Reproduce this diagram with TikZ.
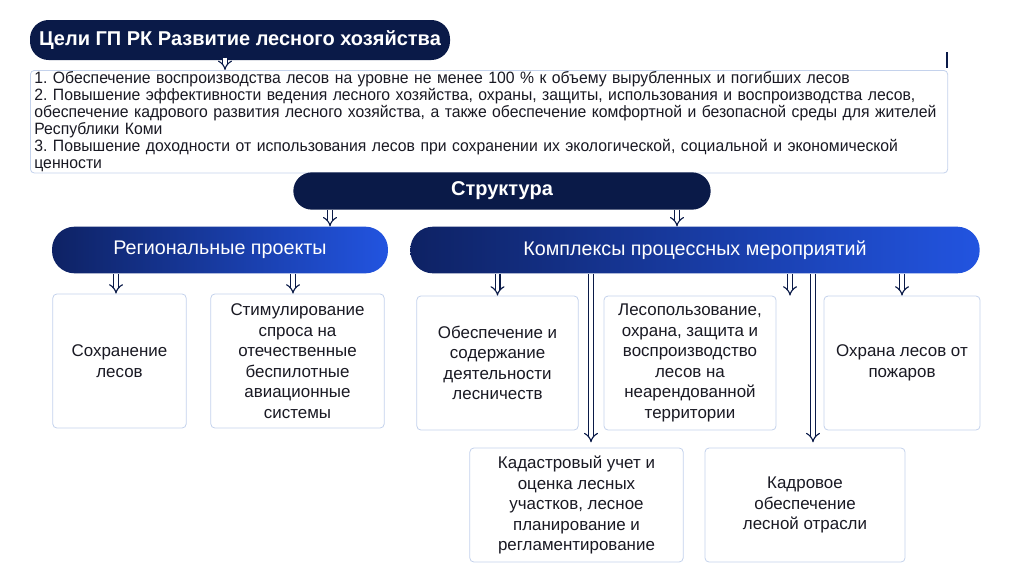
\documentclass[tikz,border=0pt]{standalone}
\usepackage{fontspec}
\setmainfont{Liberation Sans}
\newfontfamily\narrowfont[FakeStretch=0.96]{Liberation Sans}
\usepackage{xcolor}
\usepackage{tikz}
\usetikzlibrary{shapes, arrows.meta, positioning}
\definecolor{navydark}{RGB}{10, 26, 72}
\definecolor{navyleft}{RGB}{14, 34, 100}
\definecolor{blueright}{RGB}{34, 84, 224}
\definecolor{boxline}{RGB}{196, 210, 236}
\definecolor{textdark}{RGB}{25, 25, 35}
\frenchspacing

\begin{document}
\begin{tikzpicture}[x=0.75pt, y=-0.75pt,
    every node/.style={font=\fontsize{12.7}{15.4}\selectfont, text=textdark},
    pill/.style={fill=navydark, rounded corners=14pt, text=white, font=\fontsize{15}{17}\selectfont\bfseries},
    gradpill/.style={left color=navyleft, right color=blueright, rounded corners=17pt, minimum height=35pt, text=white, font=\fontsize{14.8}{17}\selectfont},
    itembox/.style={draw=boxline, fill=white, rounded corners=3pt, align=center, line width=0.6pt},
    hollowarr/.style={draw=navydark, line width=0.85pt, double=white, double distance=2.8pt, -{Implies}}]
        \useasboundingbox (0,0) rectangle (1024,576);

        % headline and goals
        \node[pill, minimum width=315pt, minimum height=30pt] (title) at (240,40) {Цели ГП РК Развитие лесного хозяйства};
        \node[draw=boxline, fill=white, rounded corners=3pt, line width=0.6pt, anchor=north west, text width=682pt, inner xsep=3pt, inner ysep=1pt, minimum height=75pt, align=left,
              font=\narrowfont\fontsize{12.3}{12.7}\selectfont] (goals) at (30,70)
            {1. Обеспечение воспроизводства лесов на уровне не менее 100 \% к объему вырубленных и погибших лесов\\
             2. Повышение эффективности ведения лесного хозяйства, охраны, защиты, использования и воспроизводства лесов,\\
             обеспечение кадрового развития лесного хозяйства, а также обеспечение комфортной и безопасной среды для жителей\\
             Республики Коми\\
             3. Повышение доходности от использования лесов при сохранении их экологической, социальной и экономической\\
             ценности};
        \draw[navydark, line width=0.8pt] (947,52) -- (947,68);

        % structure
        \node[pill, minimum width=313pt, minimum height=28pt] (struct) at (502,191) {Структура};
        \node[gradpill, minimum width=252pt] (regional) at (220,250) {Региональные проекты};
        \node[gradpill, minimum width=427pt] (complexes) at (695,250) {Комплексы процессных мероприятий};

        % boxes
        \node[itembox, minimum width=100pt, minimum height=100.5pt] (save) at (119.5,361) {Сохранение\\лесов};
        \node[itembox, minimum width=130pt, minimum height=100.5pt] (drones) at (297.5,361) {Стимулирование\\спроса на\\отечественные\\беспилотные\\авиационные\\системы};
        \node[itembox, minimum width=121pt, minimum height=100.5pt] (forestry) at (497.5,363) {Обеспечение и\\содержание\\деятельности\\лесничеств};
        \node[itembox, minimum width=129pt, minimum height=100.5pt] (usage) at (690,363) {Лесопользование,\\охрана, защита и\\воспроизводство\\лесов на\\неарендованной\\территории};
        \node[itembox, minimum width=117pt, minimum height=100.5pt] (fire) at (902,363) {Охрана лесов от\\пожаров};
        \node[itembox, minimum width=160pt, minimum height=85.5pt] (cadastre) at (576.5,505) {Кадастровый учет и\\оценка лесных\\участков, лесное\\планирование и\\регламентирование};
        \node[itembox, minimum width=150pt, minimum height=85.5pt] (staff) at (805,505) {Кадровое\\обеспечение\\лесной отрасли};

        % arrow columns
        \coordinate (xa) at (225,0);
        \coordinate (xb) at (330,0);
        \coordinate (xc) at (677,0);
        \coordinate (xd) at (116,0);
        \coordinate (xe) at (293,0);
        \coordinate (xf) at (790,0);
        \coordinate (xg) at (591,0);
        \coordinate (xh) at (813,0);

        % arrows
        \draw[hollowarr] ([yshift=2pt]title.south -| xa) -- (goals.north -| xa);
        \draw[hollowarr] (struct.south -| xb) -- (regional.north -| xb);
        \draw[hollowarr] (struct.south -| xc) -- (complexes.north -| xc);
        \draw[hollowarr] (regional.south -| xd) -- (save.north -| xd);
        \draw[hollowarr] (regional.south -| xe) -- (drones.north -| xe);
        \draw[hollowarr] (complexes.south -| forestry.north) -- (forestry.north);
        \draw[hollowarr] (complexes.south -| xf) -- (usage.north -| xf);
        \draw[hollowarr] (complexes.south -| fire.north) -- (fire.north);
        \draw[hollowarr] (complexes.south -| xg) -- ([yshift=4pt]cadastre.north -| xg);
        \draw[hollowarr] (complexes.south -| xh) -- ([yshift=4pt]staff.north -| xh);
    \end{tikzpicture}
\end{document}
